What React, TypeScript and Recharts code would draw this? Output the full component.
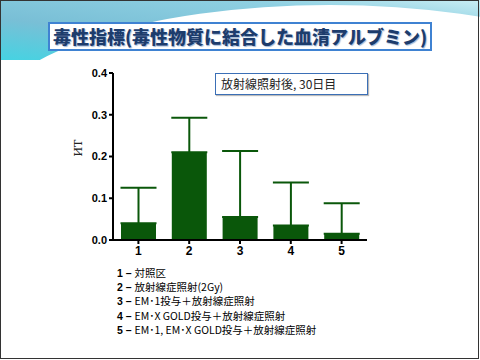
import React from "react";
import { BarChart, Bar, XAxis, YAxis, ErrorBar } from "recharts";

const categories = ["1", "2", "3", "4", "5"];
const means = [0.04, 0.21, 0.055, 0.035, 0.015];
const upperErrors = [0.085, 0.083, 0.158, 0.103, 0.073];
const yTicks = [0, 0.1, 0.2, 0.3, 0.4];
const legendLines = [
  ["1 – ", "対照区"],
  ["2 – ", "放射線症照射(2Gy)"],
  ["3 – ", "EM･1投与＋放射線症照射"],
  ["4 – ", "EM･X GOLD投与＋放射線症照射"],
  ["5 – ", "EM･1, EM･X GOLD投与＋放射線症照射"],
];

const data = categories.map((name, i) => ({
  name,
  value: means[i],
  err: [0, upperErrors[i]],
}));

const green = "#0a570a";
const tickFont = { fontFamily: "Liberation Sans, Arial, sans-serif", fontWeight: 700, fill: "#000" };

const Background = () => (
  <svg width={480} height={360} style={{ position: "absolute", left: 0, top: 0 }}>
    <defs>
      <linearGradient id="wave" x1="0" y1="1" x2="1" y2="0">
        <stop offset="0%" stopColor="#45d3e2" />
        <stop offset="35%" stopColor="#79bfd6" />
        <stop offset="75%" stopColor="#8fd0e2" />
        <stop offset="100%" stopColor="#c9eef4" />
      </linearGradient>
    </defs>
    <rect x={0} y={0} width={480} height={360} fill="#ffffff" />
    <rect x={0} y={0} width={480} height={60} fill="url(#wave)" />
    <ellipse cx={330} cy={120} rx={340} ry={115} fill="#ffffff" />
    <rect x={0.5} y={0.5} width={478} height={358} fill="none" stroke="#333" strokeWidth={1} />
  </svg>
);

const App = () => {
  return (
    <div style={{ position: "absolute", left: 0, top: 0, width: 480, height: 360, overflow: "hidden" }}>
      <Background />
      <div
        style={{
          position: "absolute",
          left: 48,
          top: 22,
          width: 380,
          height: 25,
          background: "#fff",
          border: "2px solid #3f82d2",
          textAlign: "center",
          fontFamily: "Noto Sans CJK JP, sans-serif",
          fontWeight: 900,
          fontSize: 18,
          lineHeight: "25px",
          color: "#1d3c6c",
          textShadow: "1px 1px 1px #9fb8d8",
          whiteSpace: "nowrap",
        }}
      >
        毒性指標(毒性物質に結合した血清アルブミン)
      </div>
      <div style={{ position: "absolute", left: 60, top: 60 }}>
        <BarChart
          width={320}
          height={200}
          data={data}
          margin={{ top: 13, right: 13, bottom: 0, left: 13 }}
          barCategoryGap={8}
        >
          <XAxis
            dataKey="name"
            height={20}
            tick={{ ...tickFont, fontSize: 12 }}
            axisLine={{ stroke: "#000", strokeWidth: 2 }}
            tickLine={{ stroke: "#000", strokeWidth: 2 }}
            tickSize={4}
          />
          <YAxis
            width={40}
            domain={[0, 0.4]}
            ticks={yTicks}
            tickFormatter={(v: number) => v.toFixed(1)}
            tick={{ ...tickFont, fontSize: 11 }}
            axisLine={{ stroke: "#000", strokeWidth: 2 }}
            tickLine={{ stroke: "#000", strokeWidth: 2 }}
            tickSize={4}
            label={{
              value: "ИТ",
              angle: -90,
              position: "insideLeft",
              offset: 5,
              style: { fontFamily: "DejaVu Serif, serif", fontSize: 11, fill: "#222" },
            }}
          />
          <Bar dataKey="value" fill={green} barSize={35} isAnimationActive={false}>
            <ErrorBar dataKey="err" width={18} stroke={green} strokeWidth={2} direction="y" />
          </Bar>
        </BarChart>
      </div>
      <div
        style={{
          position: "absolute",
          left: 215,
          top: 73,
          width: 146,
          height: 20,
          background: "#fff",
          border: "1px solid #3b6fb6",
          boxShadow: "1px 1px 1px #bbb",
          fontFamily: "Noto Sans CJK JP, sans-serif",
          fontSize: 12,
          lineHeight: "20px",
          color: "#222",
          paddingLeft: 5,
          boxSizing: "content-box",
          whiteSpace: "nowrap",
        }}
      >
        放射線照射後, 30日目
      </div>
      <div
        style={{
          position: "absolute",
          left: 117,
          top: 266,
          fontFamily: "Noto Sans CJK JP, sans-serif",
          fontSize: 10.5,
          lineHeight: "14.2px",
          color: "#000",
          whiteSpace: "nowrap",
        }}
      >
        {legendLines.map(([num, text]) => (
          <div key={num}>
            <span style={{ fontFamily: "Liberation Sans, Arial, sans-serif", fontWeight: 700 }}>{num}</span>
            <span>{text}</span>
          </div>
        ))}
      </div>
    </div>
  );
};

export default App;
